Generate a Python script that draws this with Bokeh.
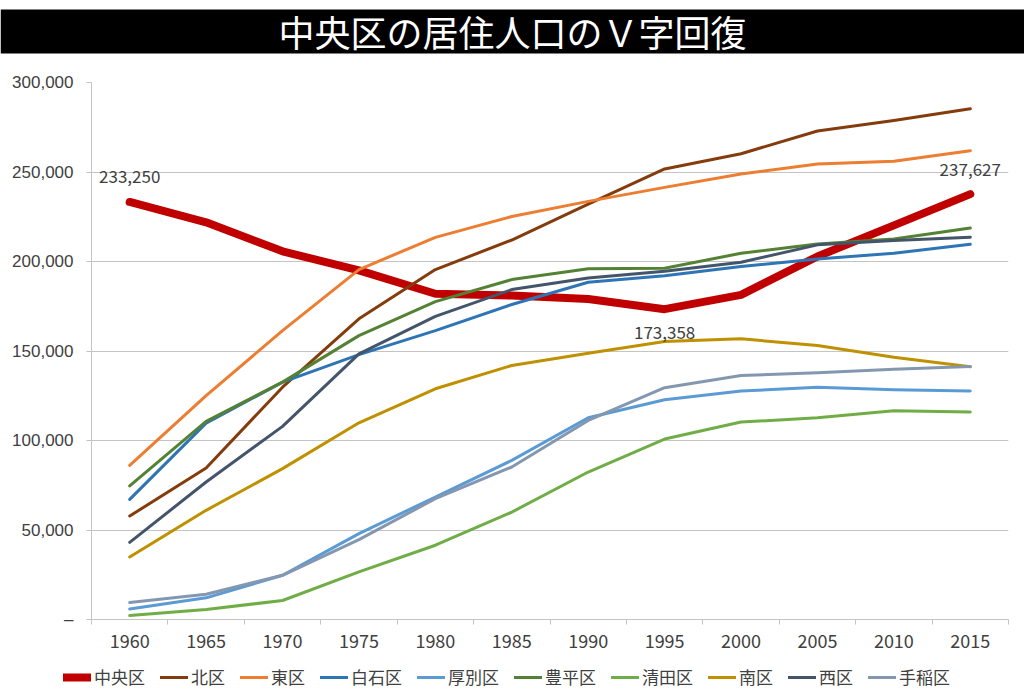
from bokeh.plotting import figure
from bokeh.models import Range1d, FixedTicker, Legend, LegendItem, NumeralTickFormatter, Label, BoxAnnotation
from bokeh.layouts import column
from bokeh.core.properties import value
from bokeh.embed import file_html
from bokeh.resources import INLINE

title_text = "中央区の居住人口のＶ字回復"

years = [1960, 1965, 1970, 1975, 1980, 1985, 1990, 1995, 2000, 2005, 2010, 2015]

chuo      = [233250, 221900, 205700, 195000, 182000, 181000, 179000, 173358, 181383, 202801, 220189, 237627]
kita      = [57800, 84600, 129800, 168000, 195500, 212000, 232100, 251700, 260200, 272900, 278800, 285300]
higashi   = [86100, 125100, 161400, 195500, 213500, 225100, 233600, 241400, 248900, 254500, 256000, 261900]
shiroishi = [67100, 109700, 132600, 148000, 161400, 176000, 188400, 192100, 197200, 201400, 204600, 209600]
atsubetsu = [5900, 12100, 24700, 48000, 68400, 88900, 112700, 122800, 127600, 129800, 128300, 127600]
toyohira  = [74600, 110700, 132600, 158600, 177600, 189900, 195900, 196200, 204600, 209800, 212600, 218700]
kiyota    = [2200, 5600, 10600, 26600, 41500, 60000, 82400, 100800, 110300, 112700, 116600, 115900]
minami    = [34900, 61000, 84300, 109900, 128900, 141900, 148800, 155300, 156800, 153100, 146500, 141200]
nishi     = [43100, 76800, 107900, 148400, 169300, 184300, 190800, 194500, 199600, 209300, 211700, 213600]
teine     = [9500, 14100, 24700, 44600, 67500, 85200, 111200, 129500, 136300, 137800, 139800, 141300]

names = ["中央区", "北区", "東区", "白石区", "厚別区", "豊平区", "清田区", "南区", "西区", "手稲区"]
series = [chuo, kita, higashi, shiroishi, atsubetsu, toyohira, kiyota, minami, nishi, teine]
colors = ["#C00000", "#843C0C", "#ED7D31", "#2E75B6", "#5B9BD5", "#548235", "#70AD47", "#BF9000", "#44546A", "#8497B0"]
widths = [8, 3, 3, 3, 3, 3, 3, 3, 3, 3]

y_ticks = [0, 50000, 100000, 150000, 200000, 250000, 300000]

TXT = "#404040"
GRID = "#C4C4C4"
CJK = "Noto Sans CJK JP"

# ---- title bar (own small figure, page pixels 0..60, y downward) ----
tf = figure(width=1024, height=60, x_range=Range1d(0, 1), y_range=Range1d(60, 0),
            toolbar_location=None, output_backend="svg",
            x_axis_location=None, y_axis_location=None, min_border=0)
tf.frame_align = False
tf.outline_line_color = None
tf.grid.visible = False
tf.add_layout(BoxAnnotation(left=0, right=1, top=9, bottom=53, fill_color="black",
                            fill_alpha=1, line_color=None, level="underlay"))
tf.text(x=[0.5], y=[30], text=[title_text], text_color="white", text_font_size="36px",
        text_align="center", text_baseline="middle", text_font=value(CJK), level="overlay")

# ---- main chart ----
p = figure(width=1024, height=600, x_range=Range1d(1957.5, 2017.5), y_range=Range1d(0, 300000),
           toolbar_location=None, output_backend="svg",
           min_border_left=91, min_border_right=16, min_border_top=22, min_border_bottom=41)
p.outline_line_color = None
p.background_fill_color = "white"
p.xgrid.visible = False
p.ygrid.grid_line_color = GRID
p.ygrid.grid_line_width = 1

boundaries = [years[0] - 2.5 + 5 * i for i in range(len(years) + 1)]
p.xaxis.ticker = FixedTicker(ticks=years, minor_ticks=boundaries)
p.xaxis.axis_line_color = GRID
p.xaxis.major_tick_out = 0
p.xaxis.major_tick_in = 0
p.xaxis.minor_tick_out = 5
p.xaxis.minor_tick_in = 0
p.xaxis.minor_tick_line_color = GRID
p.xaxis.major_label_text_font = CJK
p.xaxis.major_label_text_font_size = "18px"
p.xaxis.major_label_text_color = TXT
p.xaxis.major_label_standoff = 9

p.yaxis.ticker = FixedTicker(ticks=y_ticks, minor_ticks=[])
p.yaxis.formatter = NumeralTickFormatter(format="0,0")
p.yaxis.major_label_overrides = {0: "–"}
p.yaxis.axis_line_color = GRID
p.yaxis.major_tick_out = 5
p.yaxis.major_tick_in = 0
p.yaxis.major_tick_line_color = GRID
p.yaxis.minor_tick_line_color = None
p.yaxis.major_label_text_font = "Liberation Sans"
p.yaxis.major_label_text_font_size = "17px"
p.yaxis.major_label_text_color = TXT
p.yaxis.major_label_standoff = 13

for name, vals, c, w in zip(names, series, colors, widths):
    p.line(years, vals, line_color=c, line_width=w, line_cap="round", line_join="round")

# data labels
for idx, off in [(0, 25), (7, -23), (11, 25)]:
    p.add_layout(Label(x=years[idx], y=chuo[idx], text=f"{chuo[idx]:,}", y_offset=off,
                       text_align="center", text_baseline="middle", text_font=CJK,
                       text_font_size="17px", text_color=TXT))

# ---- legend strip (series renderers lie outside this strip's ranges; only swatches show) ----
lf = figure(width=1024, height=37, x_range=Range1d(0, 1), y_range=Range1d(0, 1),
            toolbar_location=None, output_backend="svg",
            x_axis_location=None, y_axis_location=None, min_border=0)
lf.frame_align = False
lf.outline_line_color = None
lf.grid.visible = False
items = []
for name, vals, c, w in zip(names, series, colors, widths):
    r = lf.line(years, vals, line_color=c, line_width=w, line_cap="round")
    items.append(LegendItem(label=name, renderers=[r]))
legend = Legend(items=items, orientation="horizontal", location=(63, 8),
                glyph_width=28, glyph_height=20, label_standoff=3, spacing=15,
                padding=0, margin=0, border_line_color=None, background_fill_alpha=0,
                label_text_font=CJK, label_text_font_size="17px", label_text_color=TXT)
lf.add_layout(legend)

layout = column(tf, p, lf, spacing=0)
open("out.html", "w").write(file_html(layout, INLINE))
